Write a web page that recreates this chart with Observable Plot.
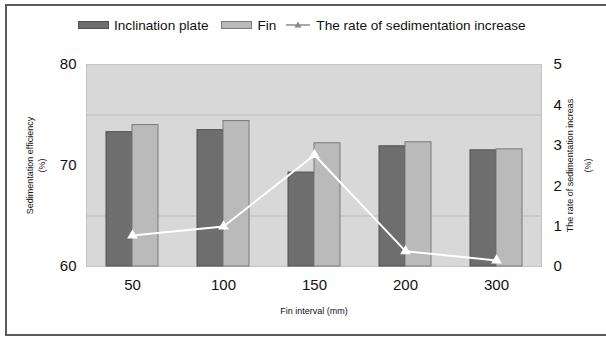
<!DOCTYPE html>
<html><head><meta charset="utf-8">
<script src="https://cdn.jsdelivr.net/npm/d3@7"></script>
<script src="https://cdn.jsdelivr.net/npm/@observablehq/plot@0.6"></script>
<style>
body{margin:0;background:#fff;font-family:"Liberation Sans",Arial,sans-serif;}
#wrap{position:relative;width:606px;height:337px;overflow:hidden;background:#fff;}
#frame{position:absolute;left:5px;top:4px;width:650px;height:328px;border:2px solid #5a5a5a;pointer-events:none;}
#legend{box-sizing:border-box;height:40px;padding-top:10px;padding-left:78px;display:flex;align-items:center;font-size:13.6px;color:#111;white-space:nowrap;}
#legend .item{display:flex;align-items:center;}
#legend .sw{display:inline-block;width:31px;height:8px;margin-right:5px;box-sizing:border-box;}
#legend svg{margin-right:6px;}
</style></head>
<body>
<div id="wrap">
  <div id="legend"></div>
  <div id="chart"></div>
  <div id="frame"></div>
</div>
<script>
const categories = ["50", "100", "150", "200", "300"];
const inclinationPlate = [73.3, 73.5, 69.3, 71.9, 71.5];
const fin = [74.0, 74.4, 72.2, 72.3, 71.6];
const rateIncrease = [0.77, 0.99, 2.76, 0.38, 0.15];
const leftTicks = [60, 70, 80];
const rightTicks = [0, 1, 2, 3, 4, 5];
const seriesNames = ["Inclination plate", "Fin", "The rate of sedimentation increase"];

const colInc = "#6e6e6e", colIncStroke = "#4f4f4f";
const colFin = "#bababa", colFinStroke = "#7a7a7a";

// legend
const lg = document.getElementById("legend");
lg.innerHTML =
  `<span class="item" style="margin-right:13px"><span class="sw" style="background:${colInc};border:1px solid ${colIncStroke}"></span>${seriesNames[0]}</span>` +
  `<span class="item" style="margin-right:10px"><span class="sw" style="background:${colFin};border:1px solid ${colFinStroke}"></span>${seriesNames[1]}</span>` +
  `<span class="item"><svg width="24" height="10"><line x1="0" y1="5" x2="24" y2="5" stroke="#8a8a8a" stroke-width="1.5"/><path d="M12,1.5 L15.5,7.5 L8.5,7.5 Z" fill="#8a8a8a"/></svg>${seriesNames[2]}</span>`;

const rows = categories.map((c, i) => ({cat: c, inc: inclinationPlate[i], fin: fin[i], rate: rateIncrease[i]}));
const toLeft = r => 60 + r * 4; // map right axis (0–5) onto left axis (60–80)

const chart = Plot.plot({
  width: 606,
  height: 297,
  marginLeft: 86,
  marginRight: 65,
  marginTop: 24,
  marginBottom: 71,
  style: {fontFamily: "'Liberation Sans', Arial, sans-serif", fontSize: "15px", color: "#111", background: "transparent"},
  x: {domain: categories, paddingInner: 0.43, paddingOuter: 0.215, axis: null},
  y: {domain: [60, 80], axis: null},
  marks: [
    Plot.frame({fill: "#d8d8d8", stroke: "#c4c4c4"}),
    Plot.ruleY([65, 75], {stroke: "#bcbcbc", strokeWidth: 1}),
    Plot.barY(rows, {x: "cat", y1: 60, y2: "inc", fill: colInc, stroke: colIncStroke, strokeWidth: 1, insetRight: 26}),
    Plot.barY(rows, {x: "cat", y1: 60, y2: "fin", fill: colFin, stroke: colFinStroke, strokeWidth: 1, insetLeft: 26}),
    Plot.line(rows, {x: "cat", y: d => toLeft(d.rate), stroke: "#ffffff", strokeWidth: 2}),
    Plot.dot(rows, {x: "cat", y: d => toLeft(d.rate), symbol: "triangle", r: 4, fill: "#ffffff", stroke: null}),
    Plot.axisY({ticks: leftTicks, tickSize: 0, tickPadding: 10, anchor: "left", label: null}),
    Plot.axisY({ticks: rightTicks.map(toLeft), tickFormat: d => (d - 60) / 4, tickSize: 0, tickPadding: 12, anchor: "right", label: null}),
    Plot.axisX({tickSize: 0, tickPadding: 13, label: null}),
    Plot.text(["Sedimentation efficiency"], {frameAnchor: "left", dx: -56, rotate: -90, fontSize: 9, textAnchor: "middle", lineAnchor: "middle"}),
    Plot.text(["(%)"], {frameAnchor: "left", dx: -44, rotate: -90, fontSize: 9, textAnchor: "middle", lineAnchor: "middle"}),
    Plot.text(["The rate of sedimentation increas"], {frameAnchor: "right", dx: 29, rotate: -90, fontSize: 9, textAnchor: "middle", lineAnchor: "middle"}),
    Plot.text(["(%)"], {frameAnchor: "right", dx: 47, rotate: -90, fontSize: 9, textAnchor: "middle", lineAnchor: "middle"}),
    Plot.text(["Fin interval (mm)"], {frameAnchor: "bottom", dy: 45, fontSize: 9, textAnchor: "middle", lineAnchor: "middle"})
  ]
});
document.getElementById("chart").appendChild(chart);
</script>
</body></html>
